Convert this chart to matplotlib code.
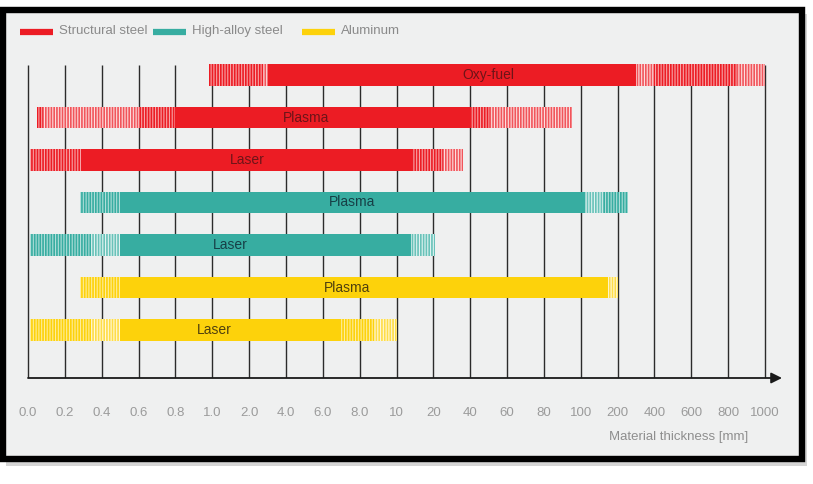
import matplotlib.pyplot as plt
import numpy as np
from matplotlib.patches import Rectangle
from matplotlib.lines import Line2D
from matplotlib.colors import to_rgb

plt.rcParams['font.family'] = ['Liberation Sans', 'DejaVu Sans']

# thickness axis (categorical-looking, piecewise linear)
ticks = [0.0, 0.2, 0.4, 0.6, 0.8, 1.0, 2.0, 4.0, 6.0, 8.0, 10, 20, 40, 60, 80,
         100, 200, 400, 600, 800, 1000]
tick_labels = ["0.0", "0.2", "0.4", "0.6", "0.8", "1.0", "2.0", "4.0", "6.0", "8.0",
               "10", "20", "40", "60", "80", "100", "200", "400", "600", "800", "1000"]

materials = ["Structural steel", "High-alloy steel", "Aluminum"]
colors = ["#ec1c24", "#37ada1", "#fdd20b"]
text_colors = ["#6e1418", "#173f46", "#4f400e"]

# one row per process, top to bottom
processes = ["Oxy-fuel", "Plasma", "Laser", "Plasma", "Laser", "Plasma", "Laser"]
material_idx = [0, 0, 0, 1, 1, 2, 2]
solid = [(3, 300), (0.8, 40), (0.29, 14.5), (0.5, 111), (0.5, 14), (0.5, 175), (0.5, 7)]
dense = [[(0.98, 2.75), (400, 850)],
         [(0.05, 0.08), (0.6, 0.8), (40, 51)],
         [(0.01, 0.29), (14.5, 25)],
         [(0.28, 0.5), (160, 256)],
         [(0.01, 0.34)],
         [(0.28, 0.5)],
         [(0.01, 0.34), (7, 8.8)]]
light = [[(2.75, 3), (300, 400), (850, 1000)],
         [(0.08, 0.6), (51, 95)],
         [(25, 36)],
         [(111, 160)],
         [(0.34, 0.5), (14, 21)],
         [(175, 200)],
         [(0.34, 0.5), (8.8, 10)]]
label_at = [50, 5.1, 1.94, 7.6, 1.5, 7.3, 1.05]

tk = np.array(ticks, float)
pos = np.arange(len(ticks), dtype=float)


def fwd(v):
    v = np.asarray(v, float)
    out = np.interp(v, tk, pos)
    out = np.where(v < tk[0], (v - tk[0]) / (tk[1] - tk[0]), out)
    out = np.where(v > tk[-1], pos[-1] + (v - tk[-1]) / (tk[-1] - tk[-2]), out)
    return out


def inv(i):
    i = np.asarray(i, float)
    out = np.interp(i, pos, tk)
    out = np.where(i < 0, tk[0] + i * (tk[1] - tk[0]), out)
    out = np.where(i > pos[-1], tk[-1] + (i - pos[-1]) * (tk[-1] - tk[-2]), out)
    return out


def tint(c, k):
    r = np.array(to_rgb(c))
    return tuple(r * k + (1 - k))


W, H = 813, 484
fig = plt.figure(figsize=(W / 100, H / 100), dpi=100, facecolor="white")


def fx(x):
    return x / W


def fy(y):
    return 1 - y / H


# frame with a soft shadow
fig.patches.append(Rectangle((fx(6), fy(466)), fx(801), fy(14) - fy(466),
                             transform=fig.transFigure, facecolor="#c4c4c4",
                             edgecolor="none", alpha=0.7, zorder=-3))
fig.patches.append(Rectangle((fx(3), fy(459)), fx(799), fy(10) - fy(459),
                             transform=fig.transFigure, facecolor="#eff0f0",
                             edgecolor="black", linewidth=4.6, zorder=-2))

ax = fig.add_axes([fx(10), fy(378), fx(790), fy(55) - fy(378)])
ax.set_facecolor("none")
ax.set_xscale("function", functions=(fwd, inv))
ax.set_xlim(inv(-18 / 36.85), inv(772 / 36.85))
ybot = (378 - 75) / 42.5
ax.set_ylim(ybot, (55 - 75) / 42.5)
for s in ax.spines.values():
    s.set_visible(False)
ax.set_yticks([])

# vertical grid
ax.vlines(ticks, -0.235, ybot, color="#2b2b2b", lw=1.0, zorder=1)

bh = 0.5
plt.rcParams['hatch.linewidth'] = 1.2
for r, name in enumerate(processes):
    c = colors[material_idx[r]]
    a, b = solid[r]
    ax.barh(r, b - a, left=a, height=bh, color=c, lw=0, zorder=3)
    for a, b in dense[r]:
        ax.barh(r, b - a, left=a, height=bh, facecolor=tint(c, 0.4),
                edgecolor=c, hatch="||||||", lw=0, zorder=3)
    for a, b in light[r]:
        ax.barh(r, b - a, left=a, height=bh, facecolor=tint(c, 0.15),
                edgecolor=tint(c, 0.75), hatch="||||||", lw=0, zorder=3)
    ax.text(label_at[r], r, name, ha="center", va="center", fontsize=10,
            color=text_colors[material_idx[r]], zorder=4)

# x axis with arrow
ax.annotate("", xy=(inv(754 / 36.85), ybot), xytext=(0, ybot),
            arrowprops=dict(arrowstyle="-|>", color="#1a1a1a", lw=1.3,
                            mutation_scale=16, shrinkA=0, shrinkB=0),
            annotation_clip=False, zorder=5)

ax.set_xticks(ticks)
ax.set_xticklabels(tick_labels)
ax.xaxis.set_minor_locator(plt.NullLocator())
ax.tick_params(axis="x", length=0, pad=21, labelsize=9.5, labelcolor="#9b9b9b")

fig.text(fx(748), fy(437), "Material thickness [mm]", ha="right", va="center",
         fontsize=9.5, color="#8e8e8e")

# legend
leg_x = [(20, 53), (153, 186), (302, 335)]
for (x0, x1), c, lab in zip(leg_x, colors, materials):
    fig.lines.append(Line2D([fx(x0), fx(x1)], [fy(32), fy(32)], transform=fig.transFigure,
                            color=c, lw=4.5, solid_capstyle="butt", zorder=3))
    fig.text(fx(x1 + 6), fy(31), lab, ha="left", va="center", fontsize=9.5,
             color="#8a8a8a", zorder=3)

fig.savefig("out.png", dpi=100)
